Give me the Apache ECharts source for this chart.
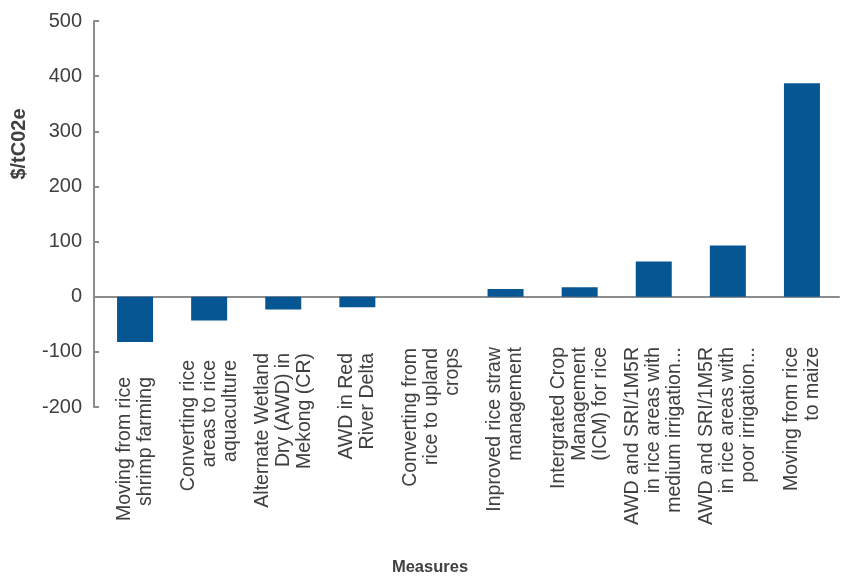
<!DOCTYPE html>
<html>
<head>
<meta charset="utf-8">
<script src="https://cdn.jsdelivr.net/npm/echarts@6/dist/echarts.min.js"></script>
<style>
  html, body { margin: 0; padding: 0; background: #fff; }
  #chart-ctn { width: 846px; height: 578px; }
</style>
</head>
<body>
<div id="chart-ctn"></div>
<script>
var categories = [
  "Moving from rice\nshrimp farming",
  "Converting rice\nareas to rice\naquaculture",
  "Alternate Wetland\nDry (AWD) in\nMekong (CR)",
  "AWD in Red\nRiver Delta",
  "Converting from\nrice to upland\ncrops",
  "Inproved rice straw\nmanagement",
  "Intergrated Crop\nManagement\n(ICM) for rice",
  "AWD and SRI/1M5R\nin rice areas with\nmedium irrigation...",
  "AWD and SRI/1M5R\nin rice areas with\npoor irrigation...",
  "Moving from rice\nto maize"
];
// extra drop of each label below the common line (px)
var labelDrop = [30, 13, 6, 6, 1, 0, 0, 0, 0, 0];
var costs = [-82, -43, -23, -19, 0, 14, 17, 64, 93, 387];
var yTicks = [-200, 500, 100];

var textColor = '#404040';
var axisColor = '#8c8c8c';

var myChart = echarts.init(document.getElementById('chart-ctn'));

var xData = [];
for (var i = 0; i < categories.length; i++) {
  xData.push({
    value: categories[i],
    textStyle: { padding: [0, labelDrop[i], 0, 0] }
  });
}

var option = {
  animation: false,
  grid: { left: 98, right: 7, top: 21, bottom: 171, containLabel: false, outerBoundsMode: 'none' },
  xAxis: {
    type: 'category',
    data: xData,
    axisLine: { onZero: true, lineStyle: { color: axisColor, width: 2 } },
    axisTick: { show: false },
    axisLabel: {
      interval: 0,
      rotate: 90,
      margin: -60,
      hideOverlap: false,
      color: textColor,
      fontFamily: 'Liberation Sans',
      fontSize: 19.5,
      lineHeight: 21
    }
  },
  yAxis: {
    type: 'value',
    min: yTicks[0],
    max: yTicks[1],
    interval: yTicks[2],
    offset: 4,
    axisLine: { show: true, lineStyle: { color: axisColor, width: 2 } },
    axisTick: { show: true, inside: true, length: 5, lineStyle: { color: axisColor, width: 2 } },
    splitLine: { show: false },
    axisLabel: {
      margin: 12,
      color: textColor,
      fontFamily: 'Liberation Sans',
      fontSize: 20
    }
  },
  series: [{
    type: 'bar',
    data: costs,
    barWidth: 36,
    itemStyle: { color: '#065694' }
  }],
  graphic: [
    {
      type: 'text',
      x: 19,
      y: 144,
      rotation: Math.PI / 2,
      style: {
        text: '$/tC02e',
        fill: textColor,
        font: 'bold 20px "Liberation Sans"',
        align: 'center',
        verticalAlign: 'middle'
      }
    },
    {
      type: 'text',
      x: 430,
      y: 567,
      style: {
        text: 'Measures',
        fill: textColor,
        font: 'bold 16.5px "Liberation Sans"',
        align: 'center',
        verticalAlign: 'middle'
      }
    }
  ]
};

myChart.setOption(option);
</script>
</body>
</html>
